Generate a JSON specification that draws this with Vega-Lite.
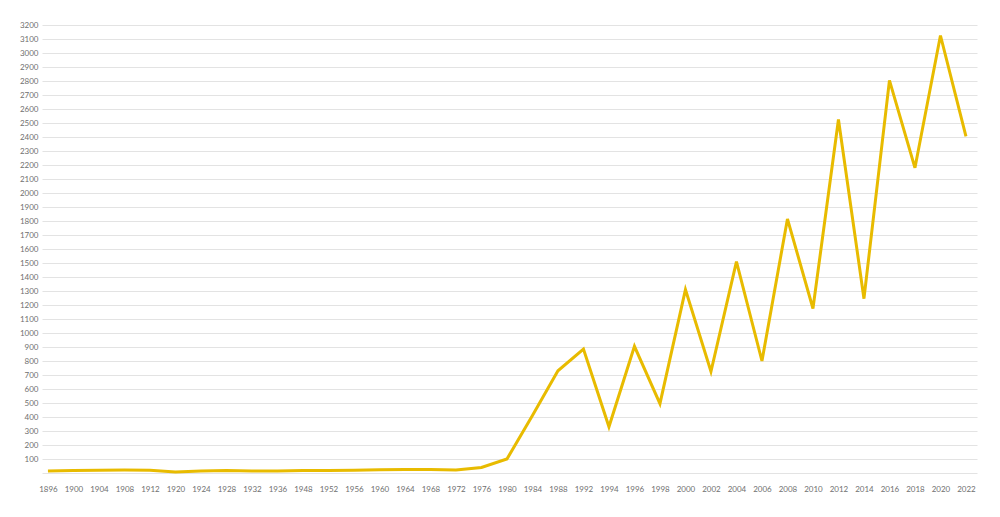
{
  "$schema": "https://vega.github.io/schema/vega-lite/v6.json",
  "autosize": "none",
  "width": 935,
  "height": 448,
  "padding": {"left": 42, "top": 25, "right": 23, "bottom": 44},
  "background": "#ffffff",
  "config": {
    "view": {"stroke": null},
    "axis": {
      "labelFont": "Lato",
      "labelFontSize": 8,
      "labelColor": "#707070",
      "domain": false,
      "ticks": false,
      "title": null
    }
  },
  "data": {
    "values": [
      {"year": "1896", "value": 15},
      {"year": "1900", "value": 18},
      {"year": "1904", "value": 20},
      {"year": "1908", "value": 21},
      {"year": "1912", "value": 19},
      {"year": "1920", "value": 8},
      {"year": "1924", "value": 14},
      {"year": "1928", "value": 17},
      {"year": "1932", "value": 14},
      {"year": "1936", "value": 14},
      {"year": "1948", "value": 17},
      {"year": "1952", "value": 17},
      {"year": "1956", "value": 19},
      {"year": "1960", "value": 24},
      {"year": "1964", "value": 25},
      {"year": "1968", "value": 25},
      {"year": "1972", "value": 22},
      {"year": "1976", "value": 40},
      {"year": "1980", "value": 100},
      {"year": "1984", "value": 410},
      {"year": "1988", "value": 730},
      {"year": "1992", "value": 885},
      {"year": "1994", "value": 330},
      {"year": "1996", "value": 905},
      {"year": "1998", "value": 495},
      {"year": "2000", "value": 1310},
      {"year": "2002", "value": 725},
      {"year": "2004", "value": 1510},
      {"year": "2006", "value": 800},
      {"year": "2008", "value": 1815},
      {"year": "2010", "value": 1175},
      {"year": "2012", "value": 2525},
      {"year": "2014", "value": 1245},
      {"year": "2016", "value": 2805},
      {"year": "2018", "value": 2180},
      {"year": "2020", "value": 3125},
      {"year": "2022", "value": 2405}
    ]
  },
  "mark": {"type": "line", "color": "#e8bb00", "strokeWidth": 3, "strokeJoin": "miter"},
  "encoding": {
    "x": {
      "field": "year",
      "type": "ordinal",
      "scale": {"type": "point", "padding": 0.333, "align": 0.35},
      "axis": {"labelAngle": 0, "labelPadding": 12, "grid": false}
    },
    "y": {
      "field": "value",
      "type": "quantitative",
      "scale": {"domain": [0, 3200], "nice": false},
      "axis": {
        "values": [0, 100, 200, 300, 400, 500, 600, 700, 800, 900, 1000, 1100, 1200, 1300, 1400, 1500, 1600, 1700, 1800, 1900, 2000, 2100, 2200, 2300, 2400, 2500, 2600, 2700, 2800, 2900, 3000, 3100, 3200],
        "labelExpr": "datum.value == 0 ? '' : datum.label",
        "format": "d",
        "labelPadding": 4,
        "grid": true,
        "gridColor": "#e3e3e3",
        "gridWidth": 1
      }
    }
  }
}
